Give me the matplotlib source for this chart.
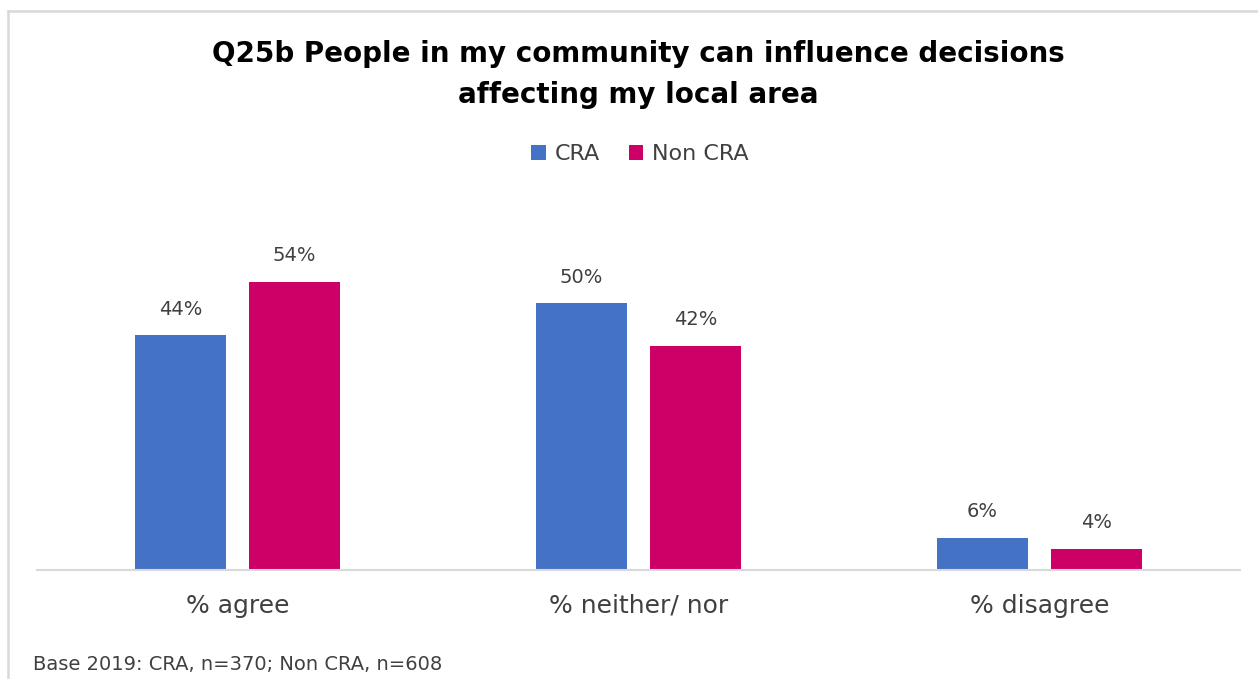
import matplotlib
matplotlib.use("Agg")
import matplotlib.pyplot as plt
from matplotlib.lines import Line2D
from matplotlib.patches import Patch
import numpy as np

plt.rcParams['font.family'] = ['DejaVu Sans']

categories = ["% agree", "% neither/ nor", "% disagree"]
cra = [44, 50, 6]
non_cra = [54, 42, 4]
series_names = ["CRA", "Non CRA"]

blue = "#4472C4"
pink = "#CC0066"
text_grey = "#404040"

W, H = 1258, 679
fig = plt.figure(figsize=(W / 100, H / 100), dpi=100)

# plot area: x 37..1240 px, baseline at y=570 px
ax = fig.add_axes([37 / W, 1 - 570 / H, (1240 - 37) / W, (570 - 250) / H])
x = np.arange(len(categories))
width = 0.225
offset = 0.142
b1 = ax.bar(x - offset, cra, width, color=blue)
b2 = ax.bar(x + offset, non_cra, width, color=pink)

for bars, vals in ((b1, cra), (b2, non_cra)):
    for rect, v in zip(bars, vals):
        ax.annotate(f"{v}%", (rect.get_x() + rect.get_width() / 2, v),
                    xytext=(0, 12), textcoords="offset points",
                    ha="center", va="bottom", fontsize=14, color=text_grey)

ax.set_xlim(-0.5, 2.5)
ax.set_ylim(0, 60)
ax.set_yticks([])
ax.set_xticks(x)
ax.set_xticklabels(categories, fontsize=18, color=text_grey)
ax.tick_params(axis="x", length=0, pad=17)
for s in ("top", "right", "left"):
    ax.spines[s].set_visible(False)
ax.spines["bottom"].set_color("#d9d9d9")
ax.spines["bottom"].set_linewidth(1.5)

# title
fig.text(638 / W, 1 - 62 / H, "Q25b People in my community can influence decisions",
         ha="center", va="baseline", fontsize=20, fontweight="bold", color="black")
fig.text(638 / W, 1 - 103 / H, "affecting my local area",
         ha="center", va="baseline", fontsize=20, fontweight="bold", color="black")

# legend
handles = [Patch(facecolor=blue), Patch(facecolor=pink)]
fig.legend(handles, series_names, loc="center", bbox_to_anchor=(640 / W, 1 - 154 / H),
           ncol=2, frameon=False, fontsize=16, handlelength=0.65, handleheight=0.65,
           handletextpad=0.4, columnspacing=1.3, labelcolor=text_grey)

# footnote
fig.text(33 / W, 1 - 670 / H, "Base 2019: CRA, n=370; Non CRA, n=608",
         ha="left", va="baseline", fontsize=14, color=text_grey)

# outer frame (top and left edges)
fig.add_artist(Line2D([8 / W, 8 / W], [0, 1 - 11 / H], transform=fig.transFigure,
                      color="#d9d9d9", linewidth=1.8))
fig.add_artist(Line2D([8 / W, 1], [1 - 11 / H, 1 - 11 / H], transform=fig.transFigure,
                      color="#d9d9d9", linewidth=1.8))

fig.savefig("out.png", dpi=100)
